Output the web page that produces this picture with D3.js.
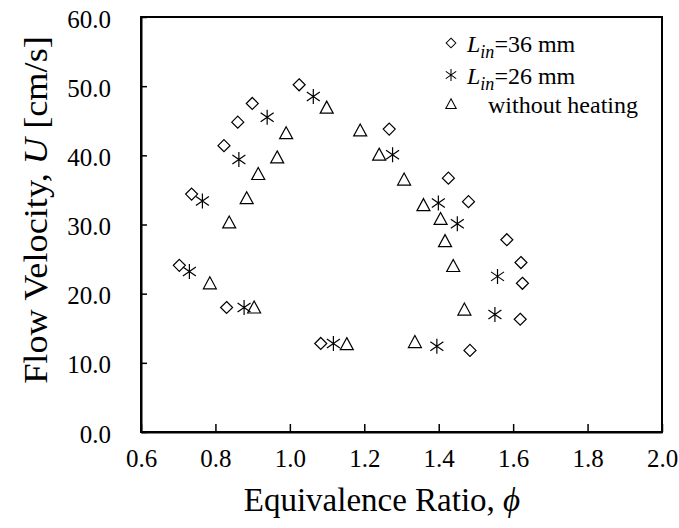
<!DOCTYPE html>
<html lang="en">
<head>
<meta charset="utf-8">
<script src="https://d3js.org/d3.v7.min.js"></script>
<style>
body { margin: 0; background: #fff; }
svg { font-family: "Liberation Serif", "Times New Roman", serif; }
</style>
</head>
<body>
<svg width="679" height="528"></svg>
<script>
// equivalence ratio / flow velocity readings
var phiL36 = [0.703, 0.736, 0.823, 0.830, 0.860, 0.899, 1.025, 1.083, 1.267, 1.426, 1.480, 1.484, 1.583, 1.621, 1.625, 1.619];
var uL36   = [24.1, 34.4, 41.4, 18.0, 44.8, 47.5, 50.2, 12.8, 43.8, 36.7, 33.3, 11.8, 27.8, 24.5, 21.5, 16.3];

var phiL26 = [0.730, 0.765, 0.863, 0.877, 0.939, 1.063, 1.117, 1.276, 1.395, 1.399, 1.450, 1.558, 1.551];
var uL26   = [23.2, 33.4, 39.4, 18.0, 45.5, 48.5, 12.8, 40.1, 12.4, 33.1, 30.1, 22.5, 17.0];

var phiNoHeat = [0.785, 0.837, 0.884, 0.904, 0.915, 0.966, 0.990, 1.099, 1.153, 1.189, 1.240, 1.307, 1.336, 1.359, 1.405, 1.417, 1.439, 1.469];
var uNoHeat   = [21.5, 30.3, 33.8, 18.0, 37.3, 39.7, 43.2, 46.9, 12.7, 43.6, 40.1, 36.5, 13.0, 32.8, 30.8, 27.6, 24.0, 17.7];

var xTicks = [0.6, 0.8, 1.0, 1.2, 1.4, 1.6, 1.8, 2.0];
var yTicks = [0, 10, 20, 30, 40, 50, 60];

var serif = "'Liberation Serif', 'Times New Roman', serif";

var svg = d3.select("svg"),
    plotLeft = 141, plotRight = 662, plotTop = 17, plotBottom = 432;

var x = d3.scaleLinear().domain([0.6, 2.0]).range([plotLeft, plotRight]);
var y = d3.scaleLinear().domain([0, 60]).range([plotBottom, plotTop]);

// marker shapes
function markerPath(kind) {
  if (kind == "diamond") return "M0,-6L6,0L0,6L-6,0Z";
  if (kind == "star") return "M0,-7.5L0,7.5M-6.5,-4.5L6.5,4.5M-6.5,4.5L6.5,-4.5";
  return "M0,-6.5L6.5,5.5L-6.5,5.5Z";
}

var series = [
  { kind: "diamond", phi: phiL36, u: uL36 },
  { kind: "star", phi: phiL26, u: uL26 },
  { kind: "triangle", phi: phiNoHeat, u: uNoHeat }
];

// frame
svg.append("rect")
    .attr("x", plotLeft).attr("y", plotTop)
    .attr("width", plotRight - plotLeft).attr("height", plotBottom - plotTop)
    .attr("fill", "none").attr("stroke", "#000").attr("stroke-width", 2);

var xAxis = svg.append("g")
    .attr("transform", "translate(0," + plotBottom + ")")
    .call(d3.axisBottom(x).tickValues(xTicks).tickFormat(d3.format(".1f"))
      .tickSizeInner(-8).tickSizeOuter(0).tickPadding(17));

var yAxis = svg.append("g")
    .attr("transform", "translate(" + plotLeft + ",0)")
    .call(d3.axisLeft(y).tickValues(yTicks).tickFormat(d3.format(".1f"))
      .tickSizeInner(-6).tickSizeOuter(0).tickPadding(30));
yAxis.selectAll("text").attr("dy", "0.4em");

[xAxis, yAxis].forEach(function(a) {
  a.attr("font-family", serif).attr("font-size", 25);
  a.select(".domain").attr("stroke", "#000").attr("stroke-width", 2);
  a.selectAll(".tick line").attr("stroke", "#000").attr("stroke-width", 1.5);
  a.selectAll(".tick text").attr("fill", "#000");
});

// points
series.forEach(function(s) {
  svg.append("g").selectAll("path")
    .data(s.phi)
    .enter().append("path")
      .attr("transform", function(d, i) { return "translate(" + x(d) + "," + y(s.u[i]) + ")"; })
      .attr("d", markerPath(s.kind))
      .attr("fill", "none")
      .attr("stroke", "#000")
      .attr("stroke-width", 1.2);
});

// legend
var legend = [
  { kind: "diamond", y: 43, tx: 467, label: "36" },
  { kind: "star", y: 75, tx: 467, label: "26" },
  { kind: "triangle", y: 104, tx: 488, label: null }
];
legend.forEach(function(l) {
  svg.append("path")
    .attr("transform", "translate(451," + l.y + ") scale(0.8)")
    .attr("d", markerPath(l.kind))
    .attr("fill", "none").attr("stroke", "#000").attr("stroke-width", 1.3);
  var t = svg.append("text")
    .attr("x", l.tx).attr("y", l.y + 9)
    .attr("font-size", 24);
  if (l.label) {
    t.append("tspan").attr("font-style", "italic").text("L");
    t.append("tspan").attr("font-style", "italic").attr("font-size", 18).attr("dy", 6).text("in");
    t.append("tspan").attr("dy", -6).text("=" + l.label + " mm");
  } else {
    t.text("without heating");
  }
});

// axis titles
var xt = svg.append("text")
    .attr("x", 382).attr("y", 511)
    .attr("text-anchor", "middle")
    .attr("font-size", 33);
xt.append("tspan").text("Equivalence Ratio, ");
xt.append("tspan").attr("font-style", "italic").text("\u03d5");

var yt = svg.append("text")
    .attr("transform", "translate(47,210) rotate(-90) scale(1.1,1)")
    .attr("text-anchor", "middle")
    .attr("font-size", 33);
yt.append("tspan").text("Flow Velocity, ");
yt.append("tspan").attr("font-style", "italic").text("U");
yt.append("tspan").text(" [cm/s]");
</script>
</body>
</html>
